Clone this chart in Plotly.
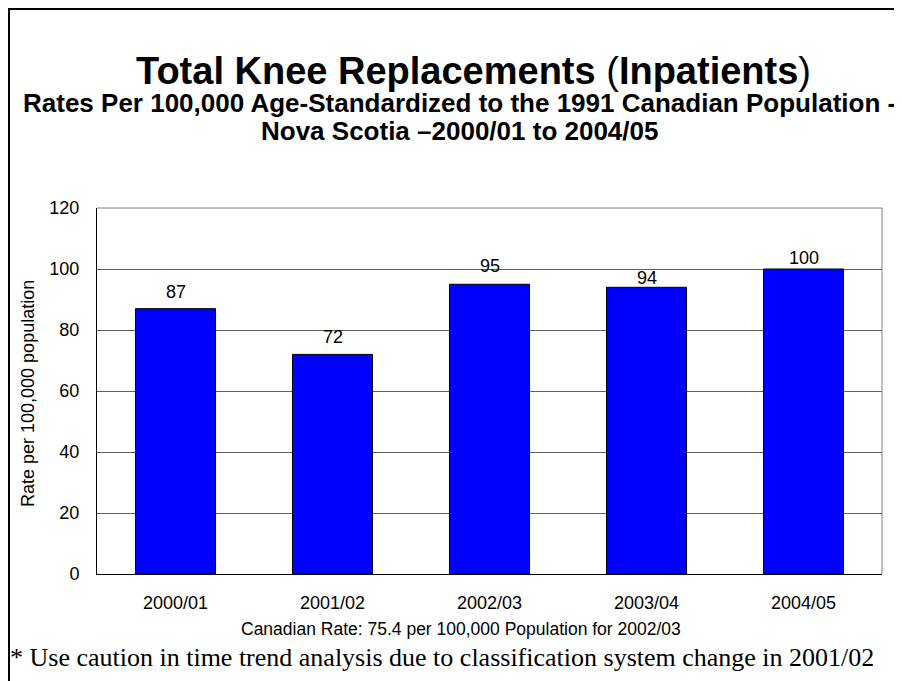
import plotly.graph_objects as go

# ---- data ----
categories = ["2000/01", "2001/02", "2002/03", "2003/04", "2004/05"]
rates = [87, 72, 95, 94, 100]
label_shift = [17, 17, 18, 9, 11]  # label offsets above bar tops (px)
y_ticks = [0, 20, 40, 60, 80, 100, 120]

title = "<b>Total Knee Replacements </b>(<b>Inpatients</b>)"
sub1 = "<b>Rates Per 100,000 Age-Standardized to the 1991 Canadian Population -</b>"
sub2 = "<b>Nova Scotia \u20132000/01 to 2004/05</b>"
ytitle = "Rate per 100,000 population"
canada_note = "Canadian Rate: 75.4 per 100,000 Population for 2002/03"
footnote = "* Use caution in time trend analysis due to classification system change in 2001/02"

# ---- layout geometry (page pixels; the page body adds an 8px offset) ----
OFF = 8
W, H = 902 - OFF, 681 - OFF
PLOT_L, PLOT_R, PLOT_T, PLOT_B = 97, 882, 208, 574  # target page coords of plot area
L, T = PLOT_L - OFF, PLOT_T - OFF
R, B = W - (PLOT_R - OFF), H - (PLOT_B - OFF)
PW, PH = W - L - R, H - T - B


def xp(px):
    return (px - OFF - L) / PW


def yp(py):
    return (H - B - (py - OFF)) / PH


ARIAL = "Arial, Liberation Sans, sans-serif"
TIMES = "Times New Roman, Liberation Serif, serif"

fig = go.Figure()
fig.add_trace(go.Bar(
    x=categories, y=rates,
    marker=dict(color="#0000FF", line=dict(color="black", width=1)),
    hoverinfo="x+y",
))

annotations = []
for c, v, s in zip(categories, rates, label_shift):
    annotations.append(dict(x=c, y=v, xref="x", yref="y", text=str(v), showarrow=False,
                            yanchor="middle", yshift=s, font=dict(family=ARIAL, size=18, color="black")))

annotations += [
    dict(x=xp(473), y=yp(71), xref="paper", yref="paper", text=title, showarrow=False,
         xanchor="center", yanchor="middle", font=dict(family=ARIAL, size=38, color="black")),
    dict(x=xp(459), y=yp(103), xref="paper", yref="paper", text=sub1, showarrow=False,
         xanchor="center", yanchor="middle", font=dict(family=ARIAL, size=26, color="black")),
    dict(x=xp(459), y=yp(131), xref="paper", yref="paper", text=sub2, showarrow=False,
         xanchor="center", yanchor="middle", font=dict(family=ARIAL, size=26, color="black")),
    dict(x=xp(28), y=yp(394), xref="paper", yref="paper", text=ytitle, showarrow=False, textangle=-90,
         xanchor="center", yanchor="middle", font=dict(family=ARIAL, size=18, color="black")),
    dict(x=xp(461), y=yp(629), xref="paper", yref="paper", text=canada_note, showarrow=False,
         xanchor="center", yanchor="middle", font=dict(family=ARIAL, size=17.5, color="black")),
    dict(x=xp(8), y=yp(657), xref="paper", yref="paper", text=footnote, showarrow=False,
         xanchor="left", yanchor="middle", font=dict(family=TIMES, size=26, color="black")),
]

shapes = [
    # outer frame (extends beyond right/bottom edges)
    dict(type="rect", xref="paper", yref="paper", x0=xp(9), x1=xp(960), y0=yp(760), y1=yp(9),
         line=dict(color="black", width=2), fillcolor="rgba(0,0,0,0)", layer="above"),
    # plot area top and right border
    dict(type="line", xref="paper", yref="paper", x0=0, x1=1, y0=1, y1=1,
         line=dict(color="#808080", width=1)),
    dict(type="line", xref="paper", yref="paper", x0=1, x1=1, y0=0, y1=1,
         line=dict(color="#808080", width=1)),
]

fig.update_layout(
    width=W, height=H, autosize=False,
    margin=dict(l=L, r=R, t=T, b=B, pad=0),
    paper_bgcolor="white", plot_bgcolor="white",
    showlegend=False, bargap=0.49,
    annotations=annotations, shapes=shapes,
    font=dict(family=ARIAL, color="black"),
)
fig.update_xaxes(
    type="category", range=[-0.5, 4.5], showgrid=False,
    showline=True, linecolor="black", linewidth=1, ticks="",
    tickfont=dict(family=ARIAL, size=18, color="black"), ticklabelstandoff=12,
)
fig.update_yaxes(
    range=[0, 120], tickvals=y_ticks, showgrid=True, gridcolor="#606060", gridwidth=1,
    showline=True, linecolor="black", linewidth=1, ticks="", zeroline=False,
    tickfont=dict(family=ARIAL, size=18, color="black"), ticklabelstandoff=13,
)

fig.write_html("out.html")
